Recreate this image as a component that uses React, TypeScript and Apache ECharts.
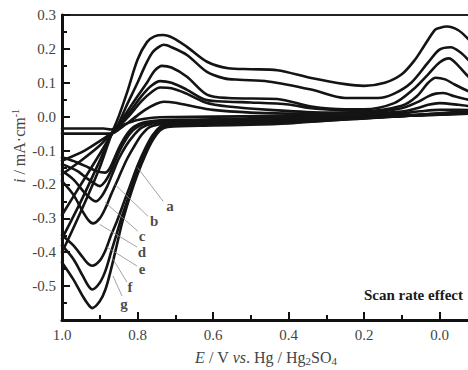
import React, { useEffect, useRef } from "react";
import * as echarts from "echarts";

// ---- data: [E (V), i (mA/cm)] ----
const curveNames = ["a", "b", "c", "d", "e", "f", "g"];

const aCath = [[1.0,-0.12],[0.96,-0.135],[0.93,-0.15],[0.905,-0.162],[0.886,-0.165],[0.875,-0.155],[0.862,-0.125],[0.848,-0.09],[0.83,-0.055],[0.81,-0.03],[0.78,-0.016],[0.72,-0.01],[0.6,-0.008],[0.4,-0.004],[0.2,0.0],[0.0,0.006],[-0.1,0.01],[-0.2,0.012]];
const aAnod = [[-0.2,0.012],[-0.1,0.018],[-0.05,0.02],[0.0,0.02],[0.05,0.016],[0.1,0.01],[0.2,0.005],[0.3,0.003],[0.45,0.002],[0.6,0.0],[0.7,-0.001],[0.76,-0.003],[0.8,-0.01],[0.84,-0.025],[0.87,-0.038],[0.89,-0.035],[0.93,-0.035],[1.0,-0.035]];

const bCath = [[1.0,-0.14],[0.96,-0.16],[0.93,-0.185],[0.91,-0.2],[0.9,-0.205],[0.885,-0.19],[0.87,-0.16],[0.855,-0.12],[0.84,-0.085],[0.82,-0.05],[0.8,-0.03],[0.77,-0.018],[0.72,-0.013],[0.6,-0.012],[0.4,-0.007],[0.2,-0.001],[0.0,0.006],[-0.1,0.01],[-0.2,0.014]];
const bAnod = [[-0.2,0.014],[-0.1,0.028],[-0.05,0.035],[0.0,0.04],[0.03,0.035],[0.06,0.025],[0.1,0.015],[0.2,0.009],[0.3,0.008],[0.4,0.009],[0.5,0.012],[0.6,0.02],[0.66,0.032],[0.7,0.041],[0.73,0.044],[0.75,0.038],[0.78,0.02],[0.81,-0.005],[0.84,-0.03],[0.87,-0.05],[0.9,-0.05],[0.94,-0.05],[1.0,-0.05]];

const cCath = [[1.0,-0.16],[0.97,-0.185],[0.94,-0.225],[0.92,-0.245],[0.91,-0.25],[0.895,-0.235],[0.88,-0.205],[0.865,-0.165],[0.85,-0.125],[0.83,-0.085],[0.81,-0.055],[0.79,-0.033],[0.76,-0.02],[0.72,-0.015],[0.6,-0.013],[0.4,-0.009],[0.2,-0.002],[0.0,0.007],[-0.1,0.012],[-0.2,0.016]];
const cAnod = [[-0.2,0.016],[-0.12,0.035],[-0.077,0.05],[-0.04,0.06],[-0.01,0.07],[0.01,0.068],[0.03,0.06],[0.06,0.042],[0.1,0.025],[0.2,0.012],[0.3,0.012],[0.45,0.02],[0.56,0.03],[0.62,0.042],[0.67,0.068],[0.71,0.084],[0.74,0.086],[0.76,0.075],[0.79,0.045],[0.82,0.005],[0.85,-0.03],[0.87,-0.05],[0.9,-0.072],[0.94,-0.1],[1.0,-0.13]];

const dCath = [[1.0,-0.19],[0.97,-0.23],[0.945,-0.28],[0.93,-0.305],[0.918,-0.315],[0.9,-0.3],[0.885,-0.27],[0.87,-0.23],[0.85,-0.18],[0.83,-0.13],[0.81,-0.09],[0.79,-0.055],[0.77,-0.032],[0.74,-0.022],[0.7,-0.018],[0.6,-0.016],[0.4,-0.012],[0.2,-0.003],[0.0,0.008],[-0.1,0.014],[-0.2,0.02]];
const dAnod = [[-0.2,0.02],[-0.12,0.055],[-0.077,0.075],[-0.04,0.095],[-0.015,0.11],[0.01,0.115],[0.03,0.1],[0.06,0.06],[0.1,0.032],[0.2,0.016],[0.25,0.018],[0.34,0.025],[0.4,0.036],[0.5,0.042],[0.56,0.044],[0.62,0.05],[0.67,0.08],[0.71,0.1],[0.74,0.105],[0.765,0.09],[0.79,0.06],[0.82,0.015],[0.85,-0.025],[0.87,-0.05],[0.9,-0.085],[0.95,-0.13],[1.0,-0.17]];

const eCath = [[1.0,-0.35],[0.97,-0.38],[0.945,-0.415],[0.93,-0.435],[0.92,-0.44],[0.9,-0.425],[0.885,-0.395],[0.87,-0.35],[0.855,-0.31],[0.84,-0.265],[0.82,-0.205],[0.8,-0.145],[0.78,-0.095],[0.76,-0.055],[0.74,-0.03],[0.72,-0.022],[0.6,-0.018],[0.4,-0.014],[0.2,-0.004],[0.0,0.008],[-0.1,0.016],[-0.2,0.024]];
const eAnod = [[-0.2,0.024],[-0.12,0.08],[-0.077,0.118],[-0.05,0.15],[-0.025,0.172],[0.0,0.16],[0.03,0.125],[0.07,0.08],[0.12,0.04],[0.2,0.022],[0.25,0.022],[0.34,0.03],[0.43,0.052],[0.56,0.055],[0.616,0.065],[0.669,0.118],[0.71,0.145],[0.735,0.15],[0.755,0.135],[0.775,0.1],[0.8,0.06],[0.83,0.01],[0.85,-0.025],[0.87,-0.055],[0.9,-0.11],[0.95,-0.2],[1.0,-0.29]];

const fCath = [[1.0,-0.38],[0.97,-0.42],[0.945,-0.47],[0.93,-0.5],[0.92,-0.51],[0.9,-0.49],[0.885,-0.455],[0.87,-0.4],[0.855,-0.345],[0.84,-0.29],[0.82,-0.225],[0.8,-0.16],[0.78,-0.105],[0.76,-0.06],[0.74,-0.035],[0.72,-0.026],[0.6,-0.022],[0.4,-0.017],[0.2,-0.005],[0.0,0.009],[-0.1,0.018],[-0.2,0.028]];
const fAnod = [[-0.2,0.028],[-0.14,0.1],[-0.1,0.14],[-0.077,0.167],[-0.055,0.19],[-0.03,0.205],[0.0,0.198],[0.03,0.16],[0.075,0.1],[0.12,0.068],[0.163,0.055],[0.25,0.055],[0.34,0.08],[0.454,0.104],[0.53,0.109],[0.57,0.113],[0.616,0.132],[0.669,0.182],[0.71,0.205],[0.73,0.212],[0.74,0.208],[0.76,0.19],[0.78,0.15],[0.8,0.1],[0.83,0.03],[0.85,-0.02],[0.87,-0.055],[0.9,-0.13],[0.95,-0.25],[1.0,-0.36]];

const gCath = [[1.0,-0.43],[0.97,-0.48],[0.945,-0.53],[0.93,-0.555],[0.92,-0.565],[0.9,-0.545],[0.885,-0.51],[0.87,-0.45],[0.855,-0.38],[0.84,-0.31],[0.82,-0.235],[0.8,-0.17],[0.78,-0.115],[0.76,-0.07],[0.74,-0.04],[0.72,-0.03],[0.6,-0.026],[0.5,-0.024],[0.4,-0.02],[0.3,-0.012],[0.2,-0.005],[0.1,0.003],[0.0,0.01],[-0.1,0.02],[-0.2,0.03]];
const gAnod = [[-0.2,0.03],[-0.15,0.12],[-0.1,0.2],[-0.077,0.228],[-0.05,0.255],[-0.02,0.266],[0.0,0.262],[0.012,0.256],[0.04,0.21],[0.065,0.168],[0.1,0.125],[0.145,0.1],[0.2,0.091],[0.25,0.096],[0.34,0.114],[0.43,0.137],[0.5,0.14],[0.56,0.143],[0.616,0.162],[0.669,0.206],[0.705,0.232],[0.732,0.241],[0.755,0.237],[0.775,0.22],[0.8,0.168],[0.828,0.07],[0.85,0.0],[0.87,-0.055],[0.9,-0.15],[0.95,-0.28],[1.0,-0.4]];

const curveData = [
  [aCath, aAnod], [bCath, bAnod], [cCath, cAnod], [dCath, dAnod],
  [eCath, eAnod], [fCath, fAnod], [gCath, gAnod],
];

// leader lines: point on curve -> end near letter
const leaderLines = [
  [[0.80, -0.15], [0.732, -0.25]],
  [[0.86, -0.2], [0.772, -0.294]],
  [[0.886, -0.253], [0.799, -0.338]],
  [[0.9, -0.318], [0.801, -0.385]],
  [[0.881, -0.385], [0.801, -0.441]],
  [[0.868, -0.415], [0.828, -0.488]],
  [[0.865, -0.47], [0.841, -0.529]],
];
const letterPos = [
  [0.714, -0.265], [0.756, -0.309], [0.788, -0.353], [0.788, -0.4],
  [0.788, -0.45], [0.82, -0.503], [0.836, -0.553],
];

const xTicks = { min: -0.2, max: 1.0, interval: 0.2 };
const yTicks = { min: -0.6, max: 0.3, interval: 0.1 };

const SERIF = "'Liberation Serif', 'DejaVu Serif', serif";

export default function App() {
  const ref = useRef<HTMLDivElement>(null);
  useEffect(() => {
    if (!ref.current) return;
    const chart = echarts.init(ref.current, undefined, { renderer: "svg" });
    const series: any[] = [];
    curveData.forEach(([c, a], k) => {
      series.push({
        type: "line",
        name: curveNames[k],
        data: [...c, ...a],
        showSymbol: false,
        symbol: "none",
        smooth: 0.3,
        lineStyle: { color: "#141414", width: 2.6, join: "round", cap: "round" },
        z: 3,
      });
    });
    leaderLines.forEach((ln) => {
      series.push({
        type: "line",
        data: ln,
        symbol: "none",
        lineStyle: { color: "#8a8a8a", width: 0.8 },
        z: 4,
        silent: true,
      });
    });
    series.push({
      type: "scatter",
      symbolSize: 0,
      data: letterPos.map((p, k) => ({ value: p, name: curveNames[k] })),
      label: {
        show: true,
        position: "inside",
        formatter: "{b}",
        fontFamily: SERIF,
        fontWeight: "bold",
        fontSize: 15,
        color: "#1a1a1a",
      },
      z: 5,
      silent: true,
    });

    chart.setOption({
      animation: false,
      grid: {
        left: 62,
        top: 15,
        width: 453,
        height: 305,
        containLabel: false,
        outerBoundsMode: "none",
        show: true,
        borderColor: "#222",
        borderWidth: 2,
        backgroundColor: "transparent",
      },
      xAxis: {
        type: "value",
        ...xTicks,
        inverse: true,
        axisLine: { show: true, onZero: false, lineStyle: { color: "#111", width: 3 } },
        axisTick: { show: true, inside: true, length: 8, lineStyle: { color: "#111", width: 2 } },
        minorTick: { show: true, splitNumber: 2, length: 5, lineStyle: { color: "#111", width: 2 } },
        splitLine: { show: false },
        axisLabel: {
          formatter: (v: number) => (v < -1e-6 ? "" : v.toFixed(1)),
          fontFamily: SERIF,
          fontSize: 15,
          color: "#444",
          margin: 7,
          hideOverlap: false,
        },
      },
      yAxis: {
        type: "value",
        ...yTicks,
        axisLine: { show: true, onZero: false, lineStyle: { color: "#111", width: 3 } },
        axisTick: { show: true, inside: true, length: 8, lineStyle: { color: "#111", width: 2 } },
        minorTick: { show: true, splitNumber: 2, length: 5, lineStyle: { color: "#111", width: 2 } },
        splitLine: { show: false },
        axisLabel: {
          formatter: (v: number) => (Math.abs(v + 0.6) < 1e-6 ? "" : v.toFixed(1)),
          fontFamily: SERIF,
          fontSize: 15,
          color: "#444",
          margin: 6,
        },
      },
      graphic: [
        {
          type: "text",
          x: 19,
          y: 146,
          rotation: Math.PI / 2,
          style: {
            text: "{it|i} / mA·cm{sup|-1}",
            align: "center",
            verticalAlign: "middle",
            fontFamily: SERIF,
            fontSize: 16,
            fill: "#444",
            rich: {
              it: { fontStyle: "italic", fontFamily: SERIF, fontSize: 16, fill: "#444" },
              sup: { fontSize: 10, fontFamily: SERIF, fill: "#444", verticalAlign: "top", padding: [0, 0, 8, 0] },
            },
          },
        },
        {
          type: "text",
          x: 266,
          y: 357,
          style: {
            text: "{it|E} / V {it|vs}. Hg / Hg{sub|2}SO{sub|4}",
            align: "center",
            verticalAlign: "middle",
            fontFamily: SERIF,
            fontSize: 16,
            fill: "#444",
            rich: {
              it: { fontStyle: "italic", fontFamily: SERIF, fontSize: 16, fill: "#444" },
              sub: { fontSize: 11, fontFamily: SERIF, fill: "#444", verticalAlign: "bottom", padding: [8, 0, 0, 0] },
            },
          },
        },
        {
          type: "text",
          x: 463,
          y: 295,
          style: {
            text: "Scan rate effect",
            align: "right",
            verticalAlign: "middle",
            fontFamily: SERIF,
            fontWeight: "bold",
            fontSize: 15,
            fill: "#1a1a1a",
          },
        },
      ],
      series,
    });
    return () => chart.dispose();
  }, []);
  return (
    <div
      ref={ref}
      style={{ position: "absolute", left: 0, top: 0, width: 468, height: 370 }}
    />
  );
}
